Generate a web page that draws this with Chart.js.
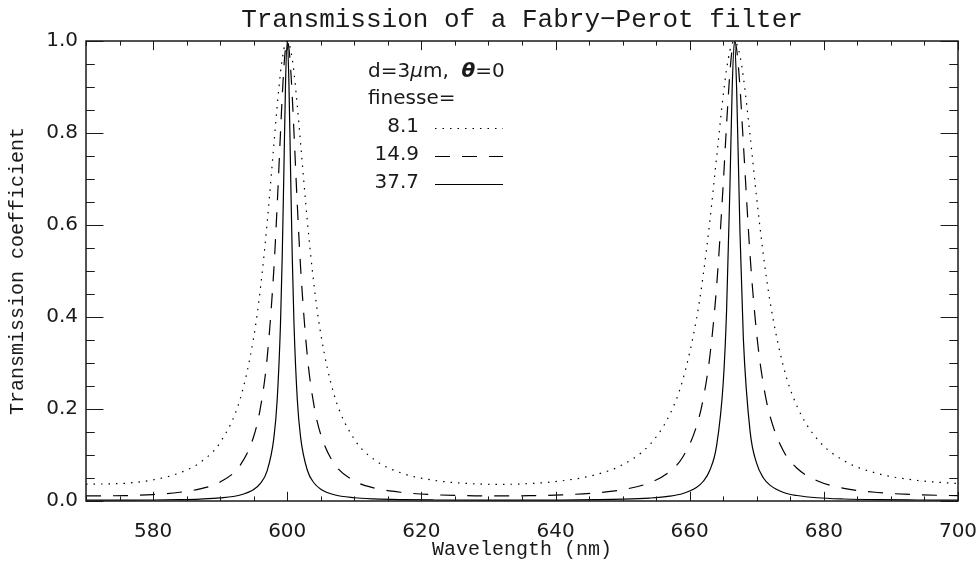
<!DOCTYPE html>
<html>
<head>
<meta charset="utf-8">
<title>Transmission of a Fabry-Perot filter</title>
<script src="https://cdn.jsdelivr.net/npm/chart.js@4/dist/chart.umd.min.js"></script>
<style>
  html, body { margin: 0; padding: 0; background: #fff; }
</style>
</head>
<body>
<canvas id="chart" width="980" height="570"></canvas>
<script>
// wavelength samples (nm), denser around the two transmission peaks
const wavelengths = [
  570, 576, 580, 584, 587, 590, 593, 595, 596, 597, 598, 598.5, 599, 599.25, 599.5, 599.75,
  600, 600.25, 600.5, 600.75, 601, 601.5, 602, 603, 604, 605, 607, 610, 613, 617, 622, 628,
  632, 636, 641, 646, 650, 654, 657, 659, 661, 662, 663, 664, 665, 665.5, 666, 666.33,
  666.67, 667, 667.5, 668, 669, 670, 671, 672, 674, 676, 679, 683, 688, 694, 700
];

// transmission for finesse = 8.1 (dotted)
const finesse81 = [
  0.0365, 0.0387, 0.0460, 0.0614, 0.0838, 0.1273, 0.2225, 0.3557, 0.4619, 0.6033, 0.7737, 0.8587, 0.9319, 0.9605, 0.9821, 0.9955,
  1.0, 0.9955, 0.9821, 0.9607, 0.9323, 0.8599, 0.7760, 0.6081, 0.4684, 0.3632, 0.2303, 0.1342, 0.0896, 0.0609, 0.0447, 0.0373,
  0.0362, 0.0378, 0.0439, 0.0573, 0.0788, 0.1218, 0.1872, 0.2649, 0.3948, 0.4896, 0.6079, 0.7455, 0.8823, 0.9387, 0.9791, 0.9946,
  1.0, 0.9946, 0.9679, 0.9220, 0.7950, 0.6566, 0.5327, 0.4316, 0.2908, 0.2061, 0.1348, 0.0876, 0.0598, 0.0446, 0.0380
];

// transmission for finesse = 14.9 (dashed)
const finesse149 = [
  0.0111, 0.0118, 0.0140, 0.0190, 0.0263, 0.0413, 0.0780, 0.1403, 0.2023, 0.3101, 0.5025, 0.6424, 0.8017, 0.8779, 0.9418, 0.9848,
  1.0, 0.9848, 0.9420, 0.8785, 0.8028, 0.6446, 0.5059, 0.3144, 0.2066, 0.1443, 0.0813, 0.0438, 0.0283, 0.0188, 0.0136, 0.0113,
  0.0110, 0.0115, 0.0134, 0.0177, 0.0246, 0.0394, 0.0637, 0.0962, 0.1616, 0.2209, 0.3142, 0.4640, 0.6890, 0.8190, 0.9328, 0.9819,
  1.0, 0.9820, 0.8992, 0.7774, 0.5341, 0.3611, 0.2520, 0.1833, 0.1081, 0.0713, 0.0440, 0.0276, 0.0185, 0.0136, 0.0116
];

// transmission for finesse = 37.7 (solid)
const finesse377 = [
  0.0017, 0.0019, 0.0022, 0.0030, 0.0042, 0.0067, 0.0130, 0.0249, 0.0381, 0.0656, 0.1363, 0.2191, 0.3871, 0.5291, 0.7167, 0.9101,
  1.0, 0.9102, 0.7173, 0.5303, 0.3887, 0.2208, 0.1379, 0.0669, 0.0391, 0.0257, 0.0136, 0.0071, 0.0045, 0.0030, 0.0022, 0.0018,
  0.0017, 0.0018, 0.0021, 0.0028, 0.0039, 0.0064, 0.0105, 0.0164, 0.0292, 0.0424, 0.0668, 0.1192, 0.2572, 0.4143, 0.6843, 0.8947,
  1.0, 0.8951, 0.5823, 0.3530, 0.1519, 0.0811, 0.0500, 0.0339, 0.0186, 0.0119, 0.0071, 0.0044, 0.0029, 0.0022, 0.0018
];

const finesseLabels = ['8.1', '14.9', '37.7'];
const xTickValues = [580, 600, 620, 640, 660, 680, 700];
const yTickValues = [0, 0.2, 0.4, 0.6, 0.8, 1.0];

const ink = '#1a1a1a';
const serif = 'Liberation Mono';
const sans = 'DejaVu Sans';

function points(ys) {
  return wavelengths.map((w, i) => ({ x: w, y: ys[i] }));
}

// IDL style box: frame plus inward ticks on all four sides
const frameTicks = {
  id: 'frameTicks',
  afterDatasetsDraw(chart) {
    const { ctx, chartArea: a, scales: { x, y } } = chart;
    const xLen = a.height * 0.02, yLen = a.width * 0.02;
    ctx.save();
    ctx.strokeStyle = ink;
    ctx.lineWidth = 1;
    ctx.beginPath();
    for (let v = x.min; v <= x.max + 1e-6; v += 5) {
      const px = Math.round(x.getPixelForValue(v)) + 0.5;
      const len = (v % 20 === 0) ? xLen : xLen / 2;
      ctx.moveTo(px, a.bottom); ctx.lineTo(px, a.bottom - len);
      ctx.moveTo(px, a.top); ctx.lineTo(px, a.top + len);
    }
    for (let i = 0; i <= 20; i++) {
      const py = Math.round(y.getPixelForValue(i * 0.05)) + 0.5;
      const len = (i % 4 === 0) ? yLen : yLen / 2;
      ctx.moveTo(a.left, py); ctx.lineTo(a.left + len, py);
      ctx.moveTo(a.right, py); ctx.lineTo(a.right - len, py);
    }
    ctx.stroke();
    ctx.lineWidth = 1.5;
    ctx.strokeRect(a.left, a.top, a.width, a.height);
    ctx.restore();
  }
};

// the text legend in the upper left of the plot
const finesseLegend = {
  id: 'finesseLegend',
  afterDraw(chart) {
    const ctx = chart.ctx;
    const left = 368, right = 419;
    ctx.save();
    ctx.fillStyle = ink;
    ctx.strokeStyle = '#000';
    ctx.textBaseline = 'middle';
    ctx.textAlign = 'left';

    // d=3μm, θ=0
    const parts = [
      ['d=3', '20px ' + sans],
      ['\u03bc', 'italic 20px ' + sans],
      ['m,  ', '20px ' + sans],
      ['\u03b8', 'italic bold 20px ' + sans],
      ['=0', '20px ' + sans]
    ];
    let px = left;
    parts.forEach(([t, f]) => {
      ctx.font = f;
      ctx.fillText(t, px, 72);
      px += ctx.measureText(t).width;
    });
    ctx.font = '20px ' + sans;
    ctx.fillText('finesse=', left, 99);

    chart.data.datasets.forEach((ds, i) => {
      const yy = 127 + i * 28;
      ctx.textAlign = 'right';
      ctx.fillText(finesseLabels[i], right, yy);
      ctx.beginPath();
      ctx.lineWidth = ds.borderWidth;
      ctx.setLineDash(ds.borderDash || []);
      ctx.moveTo(435, yy + 1.5);
      ctx.lineTo(503, yy + 1.5);
      ctx.stroke();
    });
    ctx.restore();
  }
};

const lineStyle = {
  showLine: true,
  pointRadius: 0,
  borderColor: '#000',
  borderWidth: 1.2,
  cubicInterpolationMode: 'monotone',
  fill: false
};

new Chart(document.getElementById('chart'), {
  type: 'scatter',
  data: {
    datasets: [
      Object.assign({ label: finesseLabels[0], data: points(finesse81), borderDash: [1.5, 6] }, lineStyle),
      Object.assign({ label: finesseLabels[1], data: points(finesse149), borderDash: [15, 12] }, lineStyle),
      Object.assign({ label: finesseLabels[2], data: points(finesse377) }, lineStyle)
    ]
  },
  options: {
    responsive: false,
    animation: false,
    devicePixelRatio: 1,
    layout: { padding: { left: 0, right: 22, top: 0, bottom: 0 } },
    plugins: {
      legend: { display: false },
      tooltip: { enabled: false },
      title: {
        display: true,
        fullSize: false,
        text: 'Transmission of a Fabry\u2212Perot filter',
        color: ink,
        font: { family: serif, size: 26, weight: 'normal', lineHeight: 1.2 },
        padding: { top: 5, bottom: 4.8 }
      }
    },
    scales: {
      x: {
        type: 'linear',
        min: 570,
        max: 700,
        grid: { display: false, drawTicks: false, tickLength: 0 },
        border: { display: false },
        afterBuildTicks(scale) { scale.ticks = xTickValues.map(v => ({ value: v })); },
        afterFit(scale) {
          scale.height = 69;
          scale.paddingLeft = 0;
          scale.paddingRight = 0;
        },
        ticks: {
          color: ink,
          padding: 19,
          maxRotation: 0,
          font: { family: sans, size: 20 },
          callback: v => String(v)
        },
        title: {
          display: true,
          text: 'Wavelength (nm)',
          color: ink,
          font: { family: serif, size: 20, lineHeight: 1.2 },
          padding: { top: 0, bottom: 8 }
        }
      },
      y: {
        type: 'linear',
        min: 0,
        max: 1,
        grid: { display: false, drawTicks: false, tickLength: 0 },
        border: { display: false },
        afterBuildTicks(scale) { scale.ticks = yTickValues.map(v => ({ value: v })); },
        afterFit(scale) {
          scale.width = 86;
          scale.paddingTop = 0;
          scale.paddingBottom = 0;
        },
        ticks: {
          color: ink,
          padding: 8,
          font: { family: sans, size: 20 },
          callback: v => Number(v).toFixed(1)
        },
        title: {
          display: true,
          text: 'Transmission coefficient',
          color: ink,
          font: { family: serif, size: 20, lineHeight: 1.2 },
          padding: { top: 6, bottom: 0 }
        }
      }
    }
  },
  plugins: [frameTicks, finesseLegend]
});
</script>
</body>
</html>
